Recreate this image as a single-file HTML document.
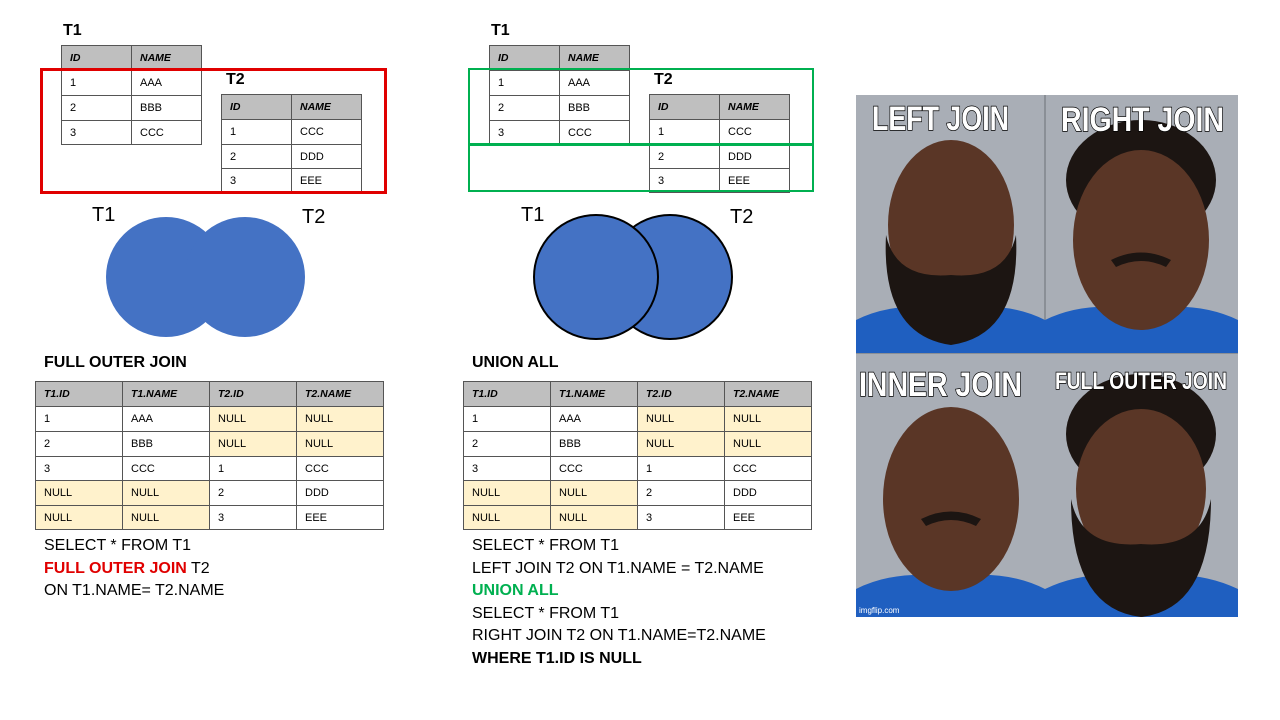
<!DOCTYPE html>
<html><head><meta charset="utf-8"><style>
body{margin:0;width:1280px;height:720px;background:#fff;position:relative;overflow:hidden;font-family:"Liberation Sans",Arial,sans-serif;color:#000}
.a{position:absolute}
table{border-collapse:collapse;table-layout:fixed;position:absolute;font-size:11px}
td{border:1.5px solid #555;padding:0 0 0 8px;white-space:nowrap;overflow:hidden}
tr.h td{background:#bfbfbf;font-weight:bold;font-style:italic;font-size:10.5px}
.y{background:#fff2cc}
.t{font-weight:bold;font-size:16px}
.sql{font-size:16px;line-height:22.5px}
.lbl{font-size:20px}
</style></head><body>
<!-- Left section -->
<div class="a t" style="left:63px;top:22px">T1</div>
<table style="left:61px;top:45px;width:140px"><col style="width:70px"><col style="width:70px">
<tr class="h" style="height:25px"><td>ID</td><td>NAME</td></tr>
<tr style="height:25px"><td>1</td><td>AAA</td></tr>
<tr style="height:25px"><td>2</td><td>BBB</td></tr>
<tr style="height:24px"><td>3</td><td>CCC</td></tr></table>
<div class="a t" style="left:226px;top:71px">T2</div>
<table style="left:221px;top:94px;width:140px"><col style="width:70px"><col style="width:70px">
<tr class="h" style="height:25px"><td>ID</td><td>NAME</td></tr>
<tr style="height:25px"><td>1</td><td>CCC</td></tr>
<tr style="height:24px"><td>2</td><td>DDD</td></tr>
<tr style="height:24px"><td>3</td><td>EEE</td></tr></table>
<div class="a" style="left:40px;top:68px;width:341px;height:120px;border:3px solid #e00000"></div>

<svg class="a" style="left:0;top:0" width="1280" height="720">
<circle cx="166" cy="277" r="60" fill="#4472c4"/>
<circle cx="245" cy="277" r="60" fill="#4472c4"/>
<circle cx="670" cy="277" r="62" fill="#4472c4" stroke="#000" stroke-width="2"/>
<circle cx="596" cy="277" r="62" fill="#4472c4" stroke="#000" stroke-width="2"/>
</svg>
<div class="a lbl" style="left:92px;top:204px">T1</div>
<div class="a lbl" style="left:302px;top:206px">T2</div>
<div class="a lbl" style="left:521px;top:204px">T1</div>
<div class="a lbl" style="left:730px;top:206px">T2</div>

<div class="a t" style="left:44px;top:354px">FULL OUTER JOIN</div>
<table style="left:35px;top:381px;width:348px"><col style="width:87px"><col style="width:87px"><col style="width:87px"><col style="width:87px">
<tr class="h" style="height:25px"><td>T1.ID</td><td>T1.NAME</td><td>T2.ID</td><td>T2.NAME</td></tr>
<tr style="height:25px"><td>1</td><td>AAA</td><td class="y">NULL</td><td class="y">NULL</td></tr>
<tr style="height:25px"><td>2</td><td>BBB</td><td class="y">NULL</td><td class="y">NULL</td></tr>
<tr style="height:24px"><td>3</td><td>CCC</td><td>1</td><td>CCC</td></tr>
<tr style="height:25px"><td class="y">NULL</td><td class="y">NULL</td><td>2</td><td>DDD</td></tr>
<tr style="height:24px"><td class="y">NULL</td><td class="y">NULL</td><td>3</td><td>EEE</td></tr></table>
<div class="a sql" style="left:44px;top:535px">SELECT * FROM T1<br><b style="color:#e00000">FULL OUTER JOIN</b> T2<br>ON T1.NAME= T2.NAME</div>

<!-- Middle section -->
<div class="a t" style="left:491px;top:22px">T1</div>
<table style="left:489px;top:45px;width:140px"><col style="width:70px"><col style="width:70px">
<tr class="h" style="height:25px"><td>ID</td><td>NAME</td></tr>
<tr style="height:25px"><td>1</td><td>AAA</td></tr>
<tr style="height:25px"><td>2</td><td>BBB</td></tr>
<tr style="height:24px"><td>3</td><td>CCC</td></tr></table>
<div class="a t" style="left:654px;top:71px">T2</div>
<table style="left:649px;top:94px;width:140px"><col style="width:70px"><col style="width:70px">
<tr class="h" style="height:25px"><td>ID</td><td>NAME</td></tr>
<tr style="height:25px"><td>1</td><td>CCC</td></tr>
<tr style="height:24px"><td>2</td><td>DDD</td></tr>
<tr style="height:24px"><td>3</td><td>EEE</td></tr></table>
<div class="a" style="left:468px;top:68px;width:342px;height:120px;border:2.5px solid #00b050"></div>
<div class="a" style="left:468px;top:143px;width:346px;height:2.5px;background:#00b050"></div>

<div class="a t" style="left:472px;top:354px">UNION ALL</div>
<table style="left:463px;top:381px;width:348px"><col style="width:87px"><col style="width:87px"><col style="width:87px"><col style="width:87px">
<tr class="h" style="height:25px"><td>T1.ID</td><td>T1.NAME</td><td>T2.ID</td><td>T2.NAME</td></tr>
<tr style="height:25px"><td>1</td><td>AAA</td><td class="y">NULL</td><td class="y">NULL</td></tr>
<tr style="height:25px"><td>2</td><td>BBB</td><td class="y">NULL</td><td class="y">NULL</td></tr>
<tr style="height:24px"><td>3</td><td>CCC</td><td>1</td><td>CCC</td></tr>
<tr style="height:25px"><td class="y">NULL</td><td class="y">NULL</td><td>2</td><td>DDD</td></tr>
<tr style="height:24px"><td class="y">NULL</td><td class="y">NULL</td><td>3</td><td>EEE</td></tr></table>
<div class="a sql" style="left:472px;top:535px">SELECT * FROM T1<br>LEFT JOIN T2 ON T1.NAME = T2.NAME<br><b style="color:#00b050">UNION ALL</b><br>SELECT * FROM T1<br>RIGHT JOIN T2 ON T1.NAME=T2.NAME<br><b>WHERE T1.ID IS NULL</b></div>

<!-- Meme -->
<svg class="a" style="left:856px;top:95px" width="382" height="522" viewBox="0 0 382 522">
<rect width="382" height="522" fill="#a9aeb6"/>
<line x1="0" y1="258" x2="382" y2="258" stroke="#8a8f96" stroke-width="2"/>
<line x1="189" y1="0" x2="189" y2="258" stroke="#8a8f96" stroke-width="2"/>
<g>
<path d="M0 258 L0 225 Q40 205 95 215 Q150 205 189 225 L189 258Z" fill="#1f5fc0"/>
<ellipse cx="95" cy="130" rx="63" ry="85" fill="#5a3626"/>
<path d="M30 140 Q25 240 95 250 Q165 240 160 140 Q150 185 95 180 Q40 185 30 140Z" fill="#1c1512"/>
<path d="M189 258 L189 225 Q230 205 285 215 Q340 205 382 225 L382 258Z" fill="#1f5fc0"/>
<ellipse cx="285" cy="85" rx="75" ry="60" fill="#1c1512"/>
<ellipse cx="285" cy="145" rx="68" ry="90" fill="#5a3626"/>
<path d="M255 165 Q285 150 315 165 L310 172 Q285 160 260 172Z" fill="#1c1512"/>
</g>
<g transform="translate(0,264)">
<path d="M0 258 L0 230 Q40 210 95 218 Q150 210 189 230 L189 258Z" fill="#1f5fc0"/>
<ellipse cx="95" cy="140" rx="68" ry="92" fill="#5a3626"/>
<path d="M65 160 Q95 145 125 160 L120 167 Q95 155 70 167Z" fill="#1c1512"/>
<path d="M189 258 L189 230 Q230 210 285 218 Q340 210 382 230 L382 258Z" fill="#1f5fc0"/>
<ellipse cx="285" cy="75" rx="75" ry="60" fill="#1c1512"/>
<ellipse cx="285" cy="130" rx="65" ry="80" fill="#5a3626"/>
<path d="M215 140 Q215 250 285 258 Q355 250 355 140 Q345 190 285 185 Q225 190 215 140Z" fill="#1c1512"/>
</g>
<g font-family="Liberation Sans,sans-serif" font-weight="bold" fill="#fff" stroke="#000" stroke-width="1.5" paint-order="stroke">
<text x="16" y="35" font-size="34" textLength="137" lengthAdjust="spacingAndGlyphs">LEFT JOIN</text>
<text x="205" y="36" font-size="34" textLength="163" lengthAdjust="spacingAndGlyphs">RIGHT JOIN</text>
<text x="3" y="301" font-size="34" textLength="163" lengthAdjust="spacingAndGlyphs">INNER JOIN</text>
<text x="199" y="294" font-size="24" textLength="172" lengthAdjust="spacingAndGlyphs">FULL OUTER JOIN</text>
</g>
<text x="3" y="518" font-size="8" fill="#fff" font-family="Liberation Sans,sans-serif">imgflip.com</text>
</svg>
</body></html>
